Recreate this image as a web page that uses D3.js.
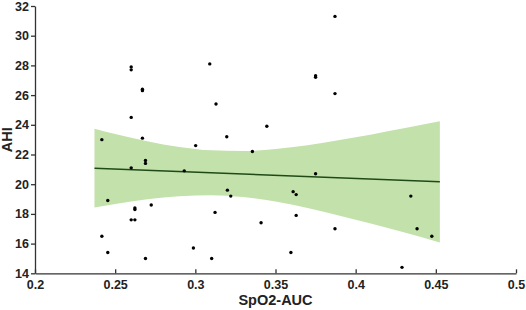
<!DOCTYPE html>
<html>
<head>
<meta charset="utf-8" />
<style>
    body { margin: 0; background: #fff; }
    .axis path, .axis line { stroke: #333; stroke-width: 1.3; }
    .axis text {
        font-family: Arial, "Liberation Sans", sans-serif;
        font-weight: bold;
        font-size: 12.5px;
        fill: #222;
    }
    .title {
        font-family: Arial, "Liberation Sans", sans-serif;
        font-weight: bold;
        font-size: 14.5px;
        fill: #222;
    }
</style>
<script src="https://d3js.org/d3.v7.min.js"></script>
</head>
<body>
<script>
// scatter points: SpO2-AUC vs AHI
let spo2 = [0.2417, 0.2600, 0.2600, 0.2670, 0.2670, 0.2600, 0.2670, 0.3871, 0.3090, 0.3750,
            0.3750, 0.3871, 0.3129, 0.3446, 0.3196, 0.3002, 0.2600, 0.2689, 0.2689, 0.2454,
            0.2623, 0.2623, 0.2725, 0.2600, 0.2623, 0.2417, 0.2454, 0.2689, 0.3356, 0.2931,
            0.3750, 0.3200, 0.3221, 0.3610, 0.3629, 0.3123, 0.3629, 0.3410, 0.3871, 0.2988,
            0.3102, 0.3596, 0.4344, 0.4383, 0.4475, 0.4289];
let ahi = [23.0, 27.9, 27.7, 26.4, 26.3, 24.5, 23.1, 31.3, 28.1, 27.3,
           27.2, 26.1, 25.4, 23.9, 23.2, 22.6, 21.1, 21.6, 21.4, 18.9,
           18.4, 18.3, 18.6, 17.6, 17.6, 16.5, 15.4, 15.0, 22.2, 20.9,
           20.7, 19.6, 19.2, 19.5, 19.3, 18.1, 17.9, 17.4, 17.0, 15.7,
           15.0, 15.4, 19.2, 17.0, 16.5, 14.4];

// fitted line
let fitX = [0.2371, 0.4525];
let fitY = [21.08, 20.16];

// confidence band
let bandX = [0.2371, 0.25, 0.27, 0.29, 0.31, 0.33, 0.35, 0.37, 0.39, 0.41, 0.43, 0.4525];
let bandHi = [23.73, 23.38, 22.90, 22.51, 22.28, 22.23, 22.37, 22.63, 22.98, 23.35, 23.76, 24.24];
let bandLo = [18.43, 18.66, 18.98, 19.19, 19.26, 19.13, 18.83, 18.39, 17.88, 17.33, 16.76, 16.08];

let xTicks = [0.2, 0.25, 0.3, 0.35, 0.4, 0.45, 0.5];
let yTicks = [14, 16, 18, 20, 22, 24, 26, 28, 30, 32];

let margin = { top: 6, right: 10, bottom: 36.7, left: 35 };
let realW = 526, realH = 310;
let w = 481, h = realH - margin.top - margin.bottom;

let svg = d3.select("body").append("svg")
    .attr("width", realW)
    .attr("height", realH);

let g = svg.append("g")
    .attr("transform", "translate(" + margin.left + "," + margin.top + ")");

let xScale = d3.scaleLinear().domain([0.2, 0.5]).range([0, w]);
let yScale = d3.scaleLinear().domain([14, 32]).range([h, 0]);

// band
let area = d3.area()
    .x(i => xScale(bandX[i]))
    .y0(i => yScale(bandLo[i]))
    .y1(i => yScale(bandHi[i]))
    .curve(d3.curveMonotoneX);

g.append("path")
    .datum(d3.range(bandX.length))
    .attr("d", area)
    .attr("fill", "#c3e1ab");

// regression line
g.append("line")
    .attr("x1", xScale(fitX[0])).attr("y1", yScale(fitY[0]))
    .attr("x2", xScale(fitX[1])).attr("y2", yScale(fitY[1]))
    .attr("stroke", "#1f4a16")
    .attr("stroke-width", 1.5);

// points
g.selectAll("circle")
    .data(d3.range(spo2.length))
    .enter()
    .append("circle")
    .attr("cx", i => xScale(spo2[i]))
    .attr("cy", i => yScale(ahi[i]))
    .attr("r", 1.7)
    .attr("fill", "#000");

// axes
let xAxis = d3.axisBottom(xScale)
    .tickValues(xTicks)
    .tickFormat(d => String(+d.toFixed(2)))
    .tickSizeInner(-4)
    .tickSizeOuter(0)
    .tickPadding(7);

let yAxis = d3.axisLeft(yScale)
    .tickValues(yTicks)
    .tickSizeInner(4)
    .tickSizeOuter(0)
    .tickPadding(2);

g.append("g")
    .attr("class", "axis")
    .attr("transform", "translate(0," + h + ")")
    .call(xAxis);

g.append("g")
    .attr("class", "axis")
    .call(yAxis);

// titles
svg.append("text")
    .attr("class", "title")
    .attr("x", margin.left + xScale(0.35))
    .attr("y", 305)
    .attr("text-anchor", "middle")
    .text("SpO2-AUC");

svg.append("text")
    .attr("class", "title")
    .attr("transform", "translate(12," + (margin.top + h / 2) + ") rotate(-90)")
    .attr("text-anchor", "middle")
    .text("AHI");
</script>
</body>
</html>
